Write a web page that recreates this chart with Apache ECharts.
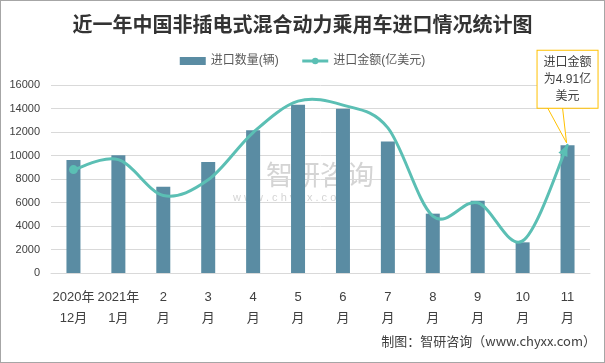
<!DOCTYPE html>
<html><head><meta charset="utf-8">
<script src="https://cdn.jsdelivr.net/npm/echarts@6/dist/echarts.min.js"></script>
<style>
html,body{margin:0;padding:0;background:#fff;}
#c{width:603px;height:361px;border:1px solid #a6a6a6;}
</style></head>
<body><div id="c"></div>
<script>
var categories = ['2020年\n12月','2021年\n1月','2\n月','3\n月','4\n月','5\n月','6\n月','7\n月','8\n月','9\n月','10\n月','11\n月'];
var quantity = [9620, 10030, 7330, 9450, 12150, 14320, 13980, 11200, 5050, 6150, 2610, 10870];
var amount = [3.96, 4.34, 2.97, 3.57, 5.38, 6.58, 6.43, 5.56, 2.18, 2.69, 1.23, 4.91];
var yTicks = [0, 2000, 4000, 6000, 8000, 10000, 12000, 14000, 16000];

var FONT = "'Liberation Sans','Noto Sans CJK SC',sans-serif";
var LINE_COLOR = '#5BBFB4';
var chart = echarts.init(document.getElementById('c'));

var pointData = amount.map(function(v, i){
  var d = {value: v, symbol: 'none'};
  if (i === 0) { d.symbol = 'circle'; d.symbolSize = 9; }
  if (i === amount.length - 1) {
    d.symbol = 'circle'; d.symbolSize = 2;
    d.label = {
      show: true, position: 'top', distance: 36,
      formatter: '进口金额\n为{c}亿\n美元',
      color: '#404040', fontSize: 12, lineHeight: 17, fontFamily: FONT,
      backgroundColor: '#fff', borderColor: '#FFC000', borderWidth: 1,
      padding: [3, 6, 3, 6]
    };
  }
  return d;
});

function renderCurve(params, api) {
  if (params.dataIndex !== 0) return null;
  var pts = amount.map(function(v, i){ return api.coord([i, v]); });
  var n = pts.length;
  var path = 'M' + pts[0][0] + ' ' + pts[0][1];
  for (var i = 0; i < n - 1; i++) {
    var p0 = pts[Math.max(i - 1, 0)], p1 = pts[i], p2 = pts[i + 1], p3 = pts[Math.min(i + 2, n - 1)];
    var c1x = p1[0] + (p2[0] - p0[0]) / 6, c1y = p1[1] + (p2[1] - p0[1]) / 6;
    var c2x = p2[0] - (p3[0] - p1[0]) / 6, c2y = p2[1] - (p3[1] - p1[1]) / 6;
    path += ' C' + c1x + ' ' + c1y + ' ' + c2x + ' ' + c2y + ' ' + p2[0] + ' ' + p2[1];
  }
  var end = pts[n - 1], prev = pts[n - 2];
  var dx = end[0] - prev[0], dy = end[1] - prev[1];
  var len = Math.sqrt(dx * dx + dy * dy); dx /= len; dy /= len;
  var ah = 11, aw = 5;
  var bx = end[0] - dx * ah, by = end[1] - dy * ah;
  var arrow = [[end[0], end[1]], [bx - dy * aw, by + dx * aw], [bx + dy * aw, by - dx * aw]];
  // callout pointer (wedge) from the label box down to the last point
  var boxBottom = end[1] - 37;
  var wedge = [[end[0] - 20, boxBottom], [end[0] - 1, end[1] - 2], [end[0] - 5, boxBottom]];
  return {
    type: 'group',
    children: [
      {type: 'path', shape: {pathData: path}, style: {fill: 'none', stroke: LINE_COLOR, lineWidth: 3, lineJoin: 'round'}},
      {type: 'polygon', shape: {points: arrow}, style: {fill: LINE_COLOR}},
      {type: 'polygon', z2: 100, shape: {points: wedge}, style: {fill: '#fff', stroke: '#FFC000', lineWidth: 1}}
    ]
  };
}

chart.setOption({
  animation: false,
  title: {
    text: '近一年中国非插电式混合动力乘用车进口情况统计图',
    left: 'center', top: 8,
    textStyle: {fontSize: 20, fontWeight: 'bold', color: '#333', fontFamily: "'Noto Sans CJK SC',serif"}
  },
  legend: {
    top: 49, left: 'center', itemGap: 22, itemWidth: 26, itemHeight: 8,
    textStyle: {color: '#595959', fontSize: 12, fontFamily: FONT},
    data: [{name: '进口数量(辆)', icon: 'rect'},
           {name: '进口金额(亿美元)', itemStyle: {color: LINE_COLOR}, lineStyle: {color: LINE_COLOR, width: 3, opacity: 1}}]
  },
  graphic: [
    {type: 'text', left: 265, top: 160, silent: true, z: 0,
     style: {text: '智研咨询', fontSize: 27, fill: 'rgba(160,160,160,0.45)', fontFamily: "'Noto Sans CJK SC',sans-serif"}},
    {type: 'text', left: 232, top: 191, silent: true, z: 0,
     style: {text: 'w w w . c h y x x . c o m', fontSize: 11, fill: 'rgba(160,160,160,0.45)', fontFamily: FONT}},
    {type: 'text', right: 8, top: 334, silent: true,
     style: {text: '制图：智研咨询（www.chyxx.com）', fontSize: 13, fill: '#404040', fontFamily: "'Noto Sans CJK SC',sans-serif"}}
  ],
  grid: {left: 50, right: 14, top: 84, bottom: 89},
  xAxis: {
    type: 'category', data: categories,
    axisLine: {lineStyle: {color: '#d9d9d9'}},
    axisTick: {show: false},
    axisLabel: {interval: 0, color: '#404040', fontSize: 13, lineHeight: 21, margin: 14, fontFamily: FONT, hideOverlap: false}
  },
  yAxis: [{
    type: 'value', min: yTicks[0], max: yTicks[yTicks.length-1], interval: 2000,
    axisLine: {show: false}, axisTick: {show: false},
    axisLabel: {color: '#404040', fontSize: 11, margin: 11, fontFamily: FONT, formatter: function(v){ return String(v); }},
    splitLine: {lineStyle: {color: '#d9d9d9'}}
  }, {
    type: 'value', min: 0, max: 7.2, show: false, splitLine: {show: false}
  }],
  series: [{
    name: '进口数量(辆)', type: 'bar', data: quantity, barWidth: 14,
    itemStyle: {color: '#5A8CA3'}
  }, {
    name: '进口金额(亿美元)', type: 'line', yAxisIndex: 1, data: pointData,
    symbol: 'circle', symbolSize: 9, z: 4, showSymbol: true,
    labelLayout: {hideOverlap: false},
    lineStyle: {color: LINE_COLOR, width: 3, opacity: 0},
    itemStyle: {color: LINE_COLOR}
  }, {
    name: 'curve', type: 'custom', yAxisIndex: 1, data: amount, z: 3,
    renderItem: renderCurve, silent: true
  }]
});
</script></body></html>
